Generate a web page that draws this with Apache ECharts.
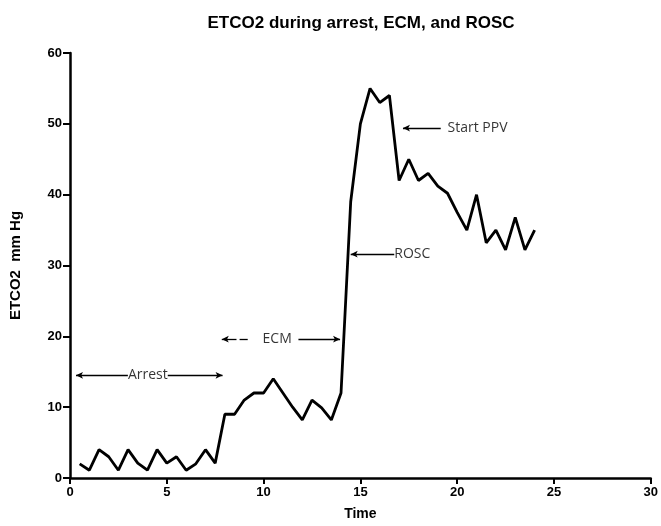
<!DOCTYPE html>
<html><head><meta charset="utf-8">
<script src="https://cdn.jsdelivr.net/npm/echarts@6/dist/echarts.min.js"></script>
<style>html,body{margin:0;padding:0;background:#fff}#c{width:661px;height:526px}</style>
</head><body><div id="c"></div>
<script>
const times = [0.5,1,1.5,2,2.5,3,3.5,4,4.5,5,5.5,6,6.5,7,7.5,8,8.5,9,9.5,10,10.5,11,11.5,12,12.5,13,13.5,14,14.5,15,15.5,16,16.5,17,17.5,18,18.5,19,19.5,20,20.5,21,21.5,22,22.5,23,23.5,24];
const etco2 = [2,1.1,4,3,1.1,4,2.1,1.1,4,2.1,3,1.1,2,4,2.1,9,9,11,12,12,14,12,10,8.2,11,9.9,8.2,12,39,50,55,53,54,42,45,42,43,41.2,40.2,37.5,35,40,33.2,35,32.2,36.8,32.2,35];
const xTicks = [0,5,10,15,20,25,30];
const yTicks = [0,10,20,30,40,50,60];
// annotation arrows: [x1, x2, y, arrowAtStart, arrowAtEnd]
const arrowSegs = [
  [0.31, 2.99, 14.5, true, false],
  [5.05, 7.88, 14.5, false, true],
  [7.84, 8.6, 19.6, true, false],
  [8.76, 9.18, 19.6, false, false],
  [11.8, 13.95, 19.6, false, true],
  [14.5, 16.75, 31.6, true, false],
  [17.2, 19.15, 49.4, true, false]
];
const labelTexts = ['Arrest','ECM','ROSC','Start PPV'];
const labelPos = [[4.02,14.5],[10.7,19.6],[16.75,31.6],[19.5,49.4]];
const labelAlign = ['center','center','left','left'];

const chart = echarts.init(document.getElementById('c'));
const font = 'Liberation Sans, Arial, sans-serif';
chart.setOption({
  animation:false,
  title:{text:'ETCO2 during arrest, ECM, and ROSC', left:356, textAlign:'center', top:10,
    textStyle:{fontFamily:font, fontSize:17, fontWeight:'bold', color:'#000'}},
  grid:{left:70, right:9, top:53, bottom:44},
  xAxis:{type:'value', min:xTicks[0], max:xTicks[xTicks.length-1], interval:5, name:'Time', nameLocation:'middle', nameGap:29,
    nameTextStyle:{fontFamily:font, fontSize:14, fontWeight:'bold', color:'#000'},
    axisLine:{show:true, onZero:false, lineStyle:{color:'#000', width:2.5}},
    axisTick:{show:true, length:6, lineStyle:{color:'#000', width:2}},
    axisLabel:{fontFamily:font, fontSize:13, fontWeight:'bold', color:'#000', margin:8},
    splitLine:{show:false}},
  yAxis:{type:'value', min:yTicks[0], max:yTicks[yTicks.length-1], interval:10, name:'ETCO2  mm Hg', nameLocation:'middle', nameGap:47,
    nameTextStyle:{fontFamily:font, fontSize:15, fontWeight:'bold', color:'#000'},
    axisLine:{show:true, lineStyle:{color:'#000', width:2.5}},
    axisTick:{show:true, length:7, lineStyle:{color:'#000', width:2}},
    axisLabel:{fontFamily:font, fontSize:13, fontWeight:'bold', color:'#000', margin:8},
    splitLine:{show:false}},
  series:[
    {type:'line', data:times.map((t,i)=>[t,etco2[i]]), showSymbol:false, symbol:'none',
      lineStyle:{color:'#000', width:2.8}, z:3,
      markLine:{silent:true, animation:false, symbolSize:[5,7],
        lineStyle:{color:'#000', width:1.3, type:'solid'}, label:{show:false},
        data: arrowSegs.map(s=>[
          {coord:[s[0],s[2]], symbol: s[3]?'arrow':'none'},
          {coord:[s[1],s[2]], symbol: s[4]?'arrow':'none'}
        ])}
    },
    {type:'scatter', symbolSize:0, silent:true,
      data: labelPos.map((p,i)=>({value:p, label:{show:true, position:'inside', align:labelAlign[i],
        formatter:labelTexts[i], fontFamily:'Open Sans, DejaVu Sans, sans-serif', fontSize:14, color:'#000'}}))}
  ]
});
</script></body></html>
